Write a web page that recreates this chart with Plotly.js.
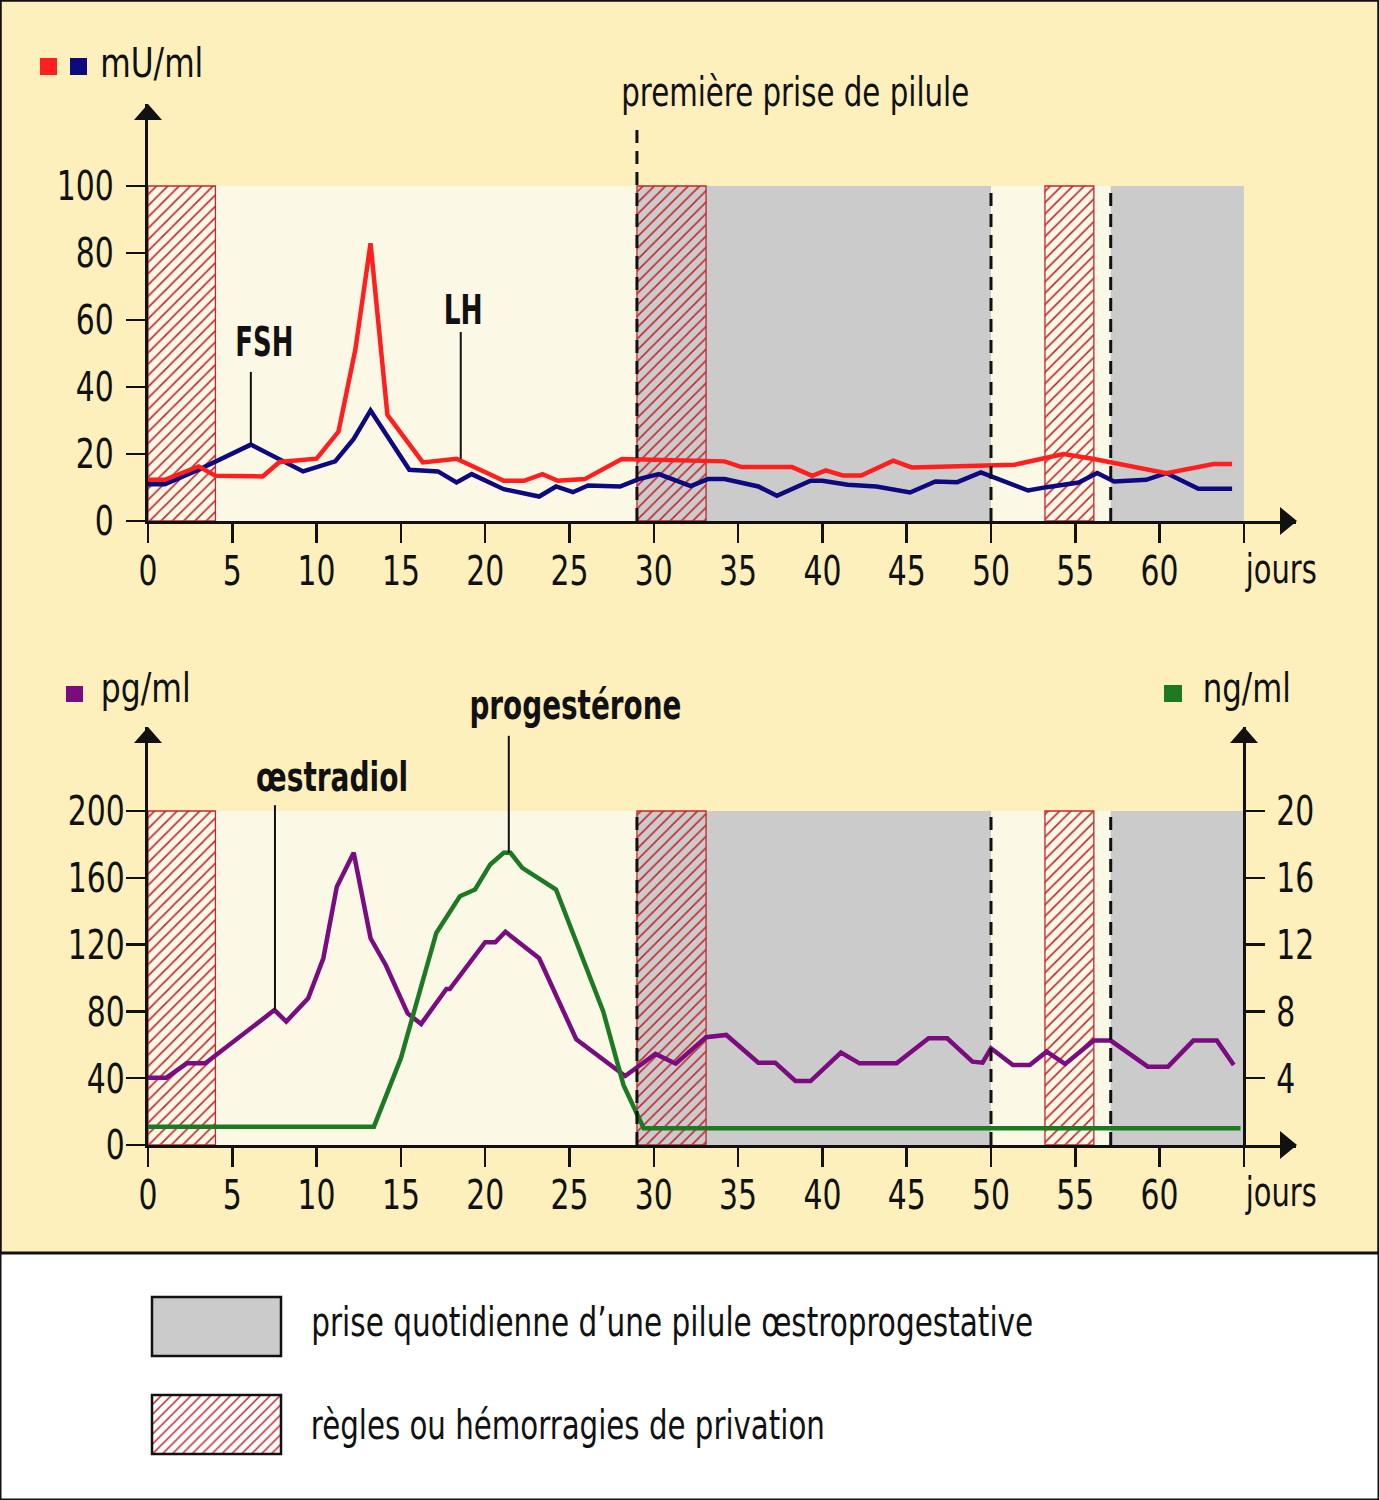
<!DOCTYPE html>
<html><head><meta charset="utf-8">
<script src="https://cdn.plot.ly/plotly-3.0.1.min.js"></script>
<style>html,body{margin:0;padding:0;background:#fff}#chart{width:1379px;height:1500px}</style>
</head><body><div id="chart"></div>
<script>
// ---------- data ----------
const dayTicks = [0,5,10,15,20,25,30,35,40,45,50,55,60,65];
const dayLabels = ['0','5','10','15','20','25','30','35','40','45','50','55','60',''];
const muTicks = [0,20,40,60,80,100];
const pgTicks = [0,40,80,120,160,200];
const ngTicks = [4,8,12,16,20];

const fshDays = [0,1,3,6.1,9.2,11.1,12.2,13.2,15.5,17.2,18.3,19.2,21.1,23.2,24.2,25.2,26.1,28,29.1,30.3,32.2,33.2,34.2,36.2,37.3,39.3,40,41.5,43.2,45.2,46.7,48,49.4,52.2,53.3,55.2,56.3,57.3,59.2,60.4,62.3,64.3];
const fshVals = [11,11,15.3,22.8,14.8,17.8,24.5,33,15.3,14.8,11.5,14,9.5,7.3,10.3,8.6,10.6,10.3,12.5,14,10.4,12.5,12.5,10.3,7.5,12,12,10.8,10.3,8.5,11.8,11.6,14.5,9.1,10.1,11.5,14.3,11.8,12.3,14.3,9.6,9.6];

const lhDays = [0,1,3,4,6.8,7.8,10,11.3,12.3,13.2,14.2,16.3,18.3,21.1,22.3,23.4,24.3,25.9,28.1,34.2,35.2,38.2,39.4,40.2,41.2,42.3,44.2,45.3,51.4,54.3,56.1,60.4,63.2,64.3];
const lhVals = [12.3,12.3,16.3,13.5,13.3,17.6,18.6,26.7,51.2,82.9,31.7,17.5,18.6,12,12,14,12,12.5,18.5,17.8,16.1,16.1,13.5,15.1,13.6,13.6,18,16,16.8,20,18.5,14.3,17,17];

const e2Days = [0,1.1,2.3,3.4,7.5,8.2,9.5,10.4,11.2,12.2,13.2,14.1,15.4,16.2,17.7,17.9,20,20.6,21.2,23.2,25.4,28.3,30.1,31.3,33.1,34.3,36.2,37.2,38.4,39.3,41.1,42.2,44.4,46.3,47.4,48.9,49.5,50,51.3,52.3,53.3,54.4,56.1,57.1,59.3,60.5,62,63.4,64.4];
const e2Vals = [40.3,40.3,48.9,48.9,80.8,73.9,87.8,111.8,154.7,175,123.8,107.8,78.8,72.5,93.4,93.4,121.4,121.4,127.7,111.8,63.3,41.3,54.5,48.7,64.5,65.9,49.3,49.3,38.3,38.3,55.3,48.9,48.9,63.9,63.9,49.9,49.3,57.9,47.9,47.9,55.9,48.5,62.5,62.5,46.9,46.9,62.5,62.5,47.9];

const progDays = [0,13.4,15,17.1,18.5,19.4,20.3,21.1,21.5,22.2,24.2,27,28.2,29.4,64.8];
const progVals = [1.1,1.1,5.2,12.7,14.9,15.3,16.8,17.5,17.5,16.6,15.3,8.0,3.6,1.0,1.0];

const bleedStart = [0,29,53.2];
const bleedEnd = [4,33.1,56.1];
const pillStart = [29,57.1];
const pillEnd = [50,65];
const dashDays = [29,50,57.1];

// pointer labels: [day, curve value, top value]
const fshPointer = [6.1, 22.8, 44.5];
const lhPointer = [18.55, 18.6, 56.4];
const e2Pointer = [7.53, 80.8, 203.5];
const progPointer = [21.4, 17.5, 24.5];

// ---------- styling ----------
const W = 1379, H = 1500;
const px = x => x / W;
const py = y => 1 - y / H;
const FONT = 'Liberation Sans Narrow, DejaVu Sans Condensed, DejaVu Sans, sans-serif';
const YELLOW = '#fdf0bd', CREAM = '#fbf8e6', GRAY = '#cbcbcb', HATCH = '#c4262c';
const pxPerDay = 16.86;
const xRange = [0, (1296 - 148) / pxPerDay];

const centers = bleedStart.map((s, i) => (s + bleedEnd[i]) / 2);
const widths = bleedStart.map((s, i) => bleedEnd[i] - s);

function hatchBar(xa, ya, top) {
  return {
    type: 'bar', x: centers, width: widths, y: centers.map(() => top), base: 0,
    xaxis: xa, yaxis: ya, hoverinfo: 'skip', showlegend: false,
    marker: {color: HATCH, line: {color: HATCH, width: 1.3},
      pattern: {shape: '/', size: 8, solidity: 0.2, fillmode: 'replace'}}
  };
}

const traces = [
  hatchBar('x', 'y', 100),
  {type: 'scatter', mode: 'lines', x: fshDays, y: fshVals, xaxis: 'x', yaxis: 'y',
   line: {color: '#0d0a80', width: 4.5}, hoverinfo: 'skip', showlegend: false},
  {type: 'scatter', mode: 'lines', x: lhDays, y: lhVals, xaxis: 'x', yaxis: 'y',
   line: {color: '#ff1f1f', width: 4.5}, hoverinfo: 'skip', showlegend: false},
  hatchBar('x2', 'y2', 200),
  {type: 'scatter', mode: 'lines', x: e2Days, y: e2Vals, xaxis: 'x2', yaxis: 'y2',
   line: {color: '#7a0c80', width: 4.5}, hoverinfo: 'skip', showlegend: false},
  {type: 'scatter', mode: 'lines', x: progDays, y: progVals, xaxis: 'x2', yaxis: 'y3',
   line: {color: '#1d7a22', width: 4.5}, hoverinfo: 'skip', showlegend: false},
  {type: 'bar', x: [0.5], width: [1], y: [1], base: 0, xaxis: 'x3', yaxis: 'y4',
   hoverinfo: 'skip', showlegend: false,
   marker: {color: HATCH, line: {width: 0},
     pattern: {shape: '/', size: 7, solidity: 0.22, fillmode: 'replace'}}}
];

const tickFont = {family: FONT, size: 41, color: '#111'};
const xCommon = {
  range: xRange, domain: [px(148), px(1296)], tickvals: dayTicks, ticktext: dayLabels,
  ticks: 'outside', ticklen: 19, tickwidth: 2.5, tickcolor: '#111',
  showline: true, linewidth: 3, linecolor: '#111', showgrid: false, zeroline: false,
  tickfont: tickFont, fixedrange: true, ticklabelstandoff: -7
};
const yCommon = {
  ticks: 'outside', ticklen: 19, tickwidth: 2.5, tickcolor: '#111',
  showline: true, linewidth: 3, linecolor: '#111', showgrid: false, zeroline: false,
  tickfont: tickFont, fixedrange: true
};

const shapes = [];
shapes.push({type: 'rect', xref: 'paper', yref: 'paper', x0: 0, x1: 1, y0: py(1253), y1: 1,
  fillcolor: YELLOW, line: {color: '#111', width: 3}, layer: 'below'});
shapes.push({type: 'rect', xref: 'x', yref: 'y', x0: 0, x1: 65, y0: 0, y1: 100,
  fillcolor: CREAM, line: {width: 0}, layer: 'below'});
shapes.push({type: 'rect', xref: 'x2', yref: 'y2', x0: 0, x1: 65, y0: 0, y1: 200,
  fillcolor: CREAM, line: {width: 0}, layer: 'below'});
pillStart.forEach((s, i) => {
  shapes.push({type: 'rect', xref: 'x', yref: 'y', x0: s, x1: pillEnd[i], y0: 0, y1: 100,
    fillcolor: GRAY, line: {width: 0}, layer: 'below'});
  shapes.push({type: 'rect', xref: 'x2', yref: 'y2', x0: s, x1: pillEnd[i], y0: 0, y1: 200,
    fillcolor: GRAY, line: {width: 0}, layer: 'below'});
});
dashDays.forEach((d, i) => {
  shapes.push({type: 'line', xref: 'x', yref: 'y', x0: d, x1: d, y0: 0, y1: i === 0 ? 118.5 : 100,
    line: {color: '#111', width: 3, dash: '13px,8px'}});
  shapes.push({type: 'line', xref: 'x2', yref: 'y2', x0: d, x1: d, y0: 0, y1: 200,
    line: {color: '#111', width: 3, dash: '13px,8px'}});
});
[[fshPointer, 'x', 'y'], [lhPointer, 'x', 'y'], [e2Pointer, 'x2', 'y2'], [progPointer, 'x2', 'y3']].forEach(([p, xa, ya]) => {
  shapes.push({type: 'line', xref: xa, yref: ya, x0: p[0], x1: p[0], y0: p[1], y1: p[2],
    line: {color: '#111', width: 2}});
});
function tri(tx, ty, bx1, by1, bx2, by2) {
  shapes.push({type: 'path', xref: 'paper', yref: 'paper',
    path: `M ${px(tx)} ${py(ty)} L ${px(bx1)} ${py(by1)} L ${px(bx2)} ${py(by2)} Z`,
    fillcolor: '#111', line: {width: 0}});
}
tri(148, 104, 134, 120, 162, 120);
tri(1297, 521, 1280, 507, 1280, 535);
tri(148, 727, 134, 743, 162, 743);
tri(1244, 727, 1230, 743, 1258, 743);
tri(1297, 1145, 1280, 1131, 1280, 1159);
function sq(x0, y0, x1, y1, c) {
  shapes.push({type: 'rect', xref: 'paper', yref: 'paper', x0: px(x0), x1: px(x1), y0: py(y1), y1: py(y0),
    fillcolor: c, line: {width: 0}});
}
sq(40, 58, 57, 75, '#ff1f1f');
sq(70, 58, 87, 75, '#0d0a80');
sq(66, 686, 83, 702, '#7a0c80');
sq(1164, 685, 1182, 702, '#1d7a22');
shapes.push({type: 'rect', xref: 'paper', yref: 'paper', x0: px(152), x1: px(281), y0: py(1356), y1: py(1297),
  fillcolor: GRAY, line: {color: '#111', width: 2.5}});
shapes.push({type: 'rect', xref: 'paper', yref: 'paper', x0: px(152), x1: px(281), y0: py(1454), y1: py(1395),
  line: {color: '#111', width: 2.5}});
shapes.push({type: 'rect', xref: 'paper', yref: 'paper', x0: 0, x1: 1, y0: 0, y1: 1,
  line: {color: '#111', width: 3}});

function txt(t, x, y, opts = {}) {
  return Object.assign({text: t, xref: 'paper', yref: 'paper', x: px(x), y: py(y),
    xanchor: 'center', yanchor: 'middle', showarrow: false,
    font: {family: FONT, size: 41, color: '#111'}}, opts);
}
const bold = {family: FONT, size: 41, color: '#111', weight: 'bold'};
const annotations = [
  txt('mU/ml', 151.5, 63),
  txt('première prise de pilule', 795, 92),
  txt('<b>FSH</b>', 264, 342, {font: bold}),
  txt('<b>LH</b>', 463, 310, {font: bold}),
  txt('jours', 1280.5, 569),
  txt('pg/ml', 145, 688),
  txt('ng/ml', 1246, 688),
  txt('<b>œstradiol</b>', 332, 777, {font: bold}),
  txt('<b>progestérone</b>', 575, 705, {font: bold}),
  txt('jours', 1280.5, 1192),
  txt('prise quotidienne d’une pilule œstroprogestative', 672, 1322),
  txt('règles ou hémorragies de privation', 568, 1425)
];
// target text widths (px) of the condensed lettering
const textWidths = {'mU/ml': 103, 'première prise de pilule': 348, 'FSH': 58, 'LH': 39, 'jours': 71,
  'pg/ml': 90, 'ng/ml': 88, 'œstradiol': 152, 'progestérone': 212,
  'prise quotidienne d’une pilule œstroprogestative': 722, 'règles ou hémorragies de privation': 514};
const tickSqueeze = 0.81;

const layout = {
  width: W, height: H, margin: {l: 0, r: 0, t: 0, b: 0, pad: 0},
  paper_bgcolor: '#ffffff', plot_bgcolor: 'rgba(0,0,0,0)',
  barmode: 'overlay', showlegend: false, font: {family: FONT, color: '#111'},
  xaxis: Object.assign({}, xCommon, {anchor: 'y'}),
  yaxis: Object.assign({}, yCommon, {domain: [py(521), py(104)], range: [0, (521 - 104) / 3.35],
    tickvals: muTicks, anchor: 'x', ticklabelstandoff: 4}),
  xaxis2: Object.assign({}, xCommon, {anchor: 'y2'}),
  yaxis2: Object.assign({}, yCommon, {domain: [py(1145), py(727)], range: [0, (1145 - 727) / 1.67],
    tickvals: pgTicks, anchor: 'x2', ticklabelstandoff: -7}),
  yaxis3: Object.assign({}, yCommon, {overlaying: 'y2', side: 'right', anchor: 'free', position: px(1244),
    range: [0, (1145 - 727) / 16.7], tickvals: ngTicks, ticklabelstandoff: 3}),
  xaxis3: {domain: [px(152), px(281)], range: [0, 1], visible: false, fixedrange: true, anchor: 'y4'},
  yaxis4: {domain: [py(1454), py(1395)], range: [0, 1], visible: false, fixedrange: true, anchor: 'x3'},
  shapes: shapes, annotations: annotations
};

Plotly.newPlot('chart', traces, layout, {displayModeBar: false, staticPlot: true}).then(() => {
  document.querySelectorAll('#chart text').forEach(t => {
    const s = t.textContent;
    const w = t.getComputedTextLength();
    if (!w) return;
    const target = textWidths[s] !== undefined ? textWidths[s] : w * tickSqueeze;
    t.setAttribute('textLength', target);
    t.setAttribute('lengthAdjust', 'spacingAndGlyphs');
  });
});
</script></body></html>
